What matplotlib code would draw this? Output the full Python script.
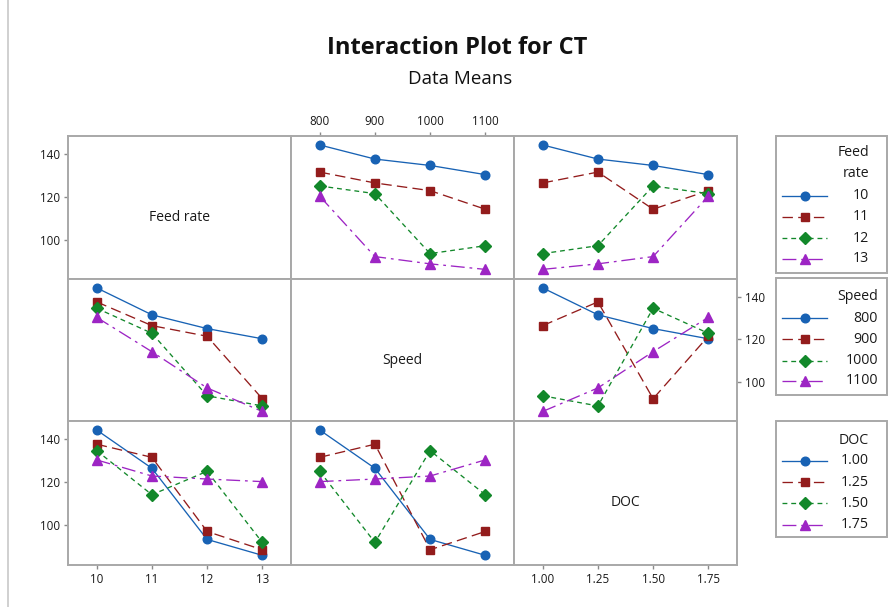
import numpy as np
import pandas as pd
import matplotlib
matplotlib.use("Agg")
import matplotlib.pyplot as plt
from matplotlib.patches import Rectangle

# ---------------- data (L16 runs, CT) ----------------
feed_rate = [10, 10, 10, 10, 11, 11, 11, 11, 12, 12, 12, 12, 13, 13, 13, 13]
speed = [800, 900, 1000, 1100, 800, 900, 1000, 1100,
         800, 900, 1000, 1100, 800, 900, 1000, 1100]
doc = [1.00, 1.25, 1.50, 1.75, 1.25, 1.00, 1.75, 1.50,
       1.50, 1.75, 1.00, 1.25, 1.75, 1.50, 1.25, 1.00]
ct = [144.3, 137.7, 134.7, 130.4, 131.6, 126.5, 122.9, 114.2,
      125.1, 121.5, 93.4, 97.1, 120.3, 92.0, 88.6, 86.0]

factor_names = ["Feed rate", "Speed", "DOC"]
feed_levels = [10, 11, 12, 13]
speed_levels = [800, 900, 1000, 1100]
doc_levels = [1.00, 1.25, 1.50, 1.75]
feed_labels = ["10", "11", "12", "13"]
speed_labels = ["800", "900", "1000", "1100"]
doc_labels = ["1.00", "1.25", "1.50", "1.75"]
y_ticks = [100, 120, 140]
title = "Interaction Plot for CT"
subtitle = "Data Means"

df = pd.DataFrame({"Feed rate": feed_rate, "Speed": speed, "DOC": doc, "CT": ct})
levels = {"Feed rate": feed_levels, "Speed": speed_levels, "DOC": doc_levels}
labels = {"Feed rate": feed_labels, "Speed": speed_labels, "DOC": doc_labels}

# ---------------- style ----------------
plt.rcParams["font.family"] = ["Open Sans", "DejaVu Sans"]
plt.rcParams["lines.scale_dashes"] = False
colors = ["#1862B4", "#931C1C", "#12882A", "#9D25C4"]
markers = ["o", "s", "D", "^"]
msizes = [6.2, 6.0, 5.8, 7.3]
dashes = [None, (7.5, 3.8), (3.5, 2.8), (10, 3.5, 2, 3.5)]
edge = "#a8a8a8"
tick_c = "#8a8a8a"
txt_c = "#1a1a1a"

W, H = 896, 607
fig = plt.figure(figsize=(W / 100, H / 100), dpi=100)

col_x = [(68, 291), (291, 514), (514, 737)]
row_y = [(136, 279), (279, 421), (421, 565)]
ylim = (81.5, 148.5)


def ax_at(x0, x1, y0, y1):
    return fig.add_axes([x0 / W, 1 - y1 / H, (x1 - x0) / W, (y1 - y0) / H])


def style_line(ln, i):
    if dashes[i] is None:
        ln.set_linestyle("-")
    else:
        ln.set_dashes(dashes[i])


for r, rf in enumerate(factor_names):
    for c, cf in enumerate(factor_names):
        ax = ax_at(col_x[c][0], col_x[c][1], row_y[r][0], row_y[r][1])
        lv = levels[cf]
        step = lv[1] - lv[0]
        ax.set_xlim(lv[0] - 0.52 * step, lv[-1] + 0.52 * step)
        ax.set_ylim(*ylim)
        for s in ax.spines.values():
            s.set_color(edge)
            s.set_linewidth(1.4)
        ax.tick_params(axis="both", which="both", length=3.2, width=1.0,
                       color=tick_c, labelsize=8.4, labelcolor=txt_c, pad=2.5)
        ax.set_xticks([])
        ax.set_yticks([])
        if r == c:
            h = row_y[r][1] - row_y[r][0]
            ax.text(0.5, 0.5 - 10 / h, rf, transform=ax.transAxes,
                    ha="center", va="center", fontsize=10, color=txt_c)
        else:
            means = df.groupby([rf, cf])["CT"].mean()
            for i, L in enumerate(levels[rf]):
                sub = means.loc[L]
                xs = list(lv)
                ys = [sub.loc[x] for x in lv]
                ln, = ax.plot(xs, ys, color=colors[i], lw=0.95, zorder=2)
                style_line(ln, i)
                ax.plot(xs, ys, ls="none", marker=markers[i], ms=msizes[i],
                        color=colors[i], mec=colors[i], zorder=3 + i)
        # ticks
        if r == 0 and c == 1:
            ax.xaxis.set_ticks_position("top")
            ax.set_xticks(lv)
            ax.set_xticklabels(labels[cf])
        if r == 2 and c in (0, 2):
            ax.set_xticks(lv)
            ax.set_xticklabels(labels[cf])
        if c == 0 and r in (0, 2):
            ax.set_yticks(y_ticks)
            ax.set_yticklabels([str(t) for t in y_ticks])
        if c == 2 and r == 1:
            ax.yaxis.set_ticks_position("right")
            ax.set_yticks(y_ticks)
            ax.set_yticklabels([str(t) for t in y_ticks])

# ---------------- overlay: title, legends, border ----------------
ov = fig.add_axes([0, 0, 1, 1], zorder=10)
ov.set_xlim(0, W)
ov.set_ylim(H, 0)
ov.axis("off")
ov.patch.set_alpha(0)

ov.text(457, 48, title, ha="center", va="center", fontsize=17,
        fontweight="bold", color="#111111")
ov.text(460, 79, subtitle, ha="center", va="center", fontsize=13.5,
        color="#111111")
ov.plot([8, 8], [0, H], color="#c8c8c8", lw=1.2)

legend_specs = [
    (136, 273, ["Feed", "rate"], [152.7, 173.3], feed_labels,
     [195.7, 217.0, 238.3, 259.0], 869),
    (278, 395, ["Speed"], [296.0], speed_labels,
     [318.3, 339.3, 360.7, 381.0], 878),
    (421, 537, ["DOC"], [440.0], doc_labels,
     [461.0, 482.3, 503.3, 524.5], 869),
]
for (y0, y1, ttl, tys, labs, lys, xr) in legend_specs:
    ov.add_patch(Rectangle((776, y0), 887 - 776, y1 - y0, fill=False,
                           ec=edge, lw=1.4))
    for t, ty in zip(ttl, tys):
        ov.text(xr, ty, t, ha="right", va="center", fontsize=10.2, color=txt_c)
    for i, (lab, ly) in enumerate(zip(labs, lys)):
        ln, = ov.plot([782, 827], [ly, ly], color=colors[i], lw=0.95)
        style_line(ln, i)
        ov.plot([805], [ly], ls="none", marker=markers[i], ms=msizes[i],
                color=colors[i], mec=colors[i])
        ov.text(xr, ly, lab, ha="right", va="center", fontsize=10.2,
                color=txt_c)

fig.savefig("out.png", dpi=100)
